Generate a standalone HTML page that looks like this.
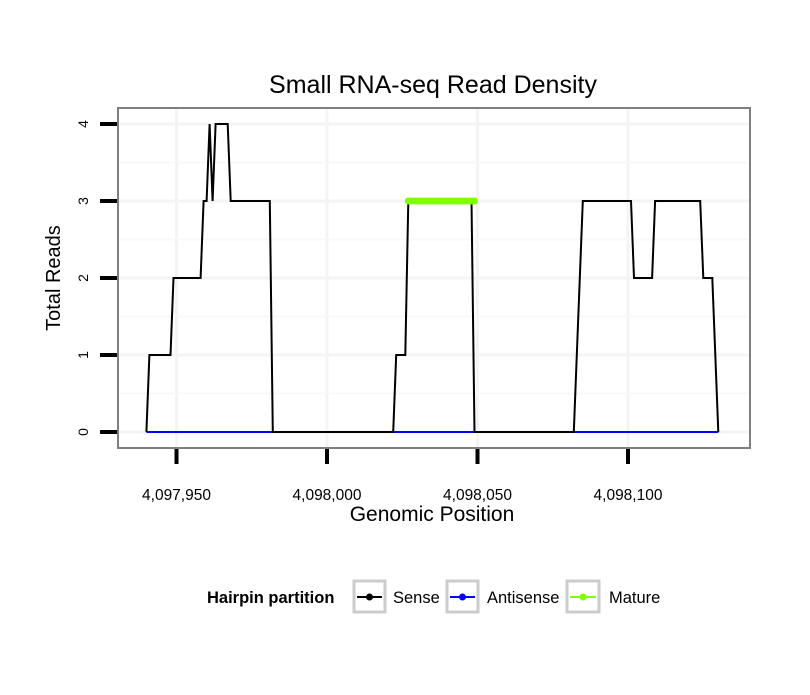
<!DOCTYPE html>
<html><head><meta charset="utf-8"><style>
body{margin:0;background:#fff}
svg text{font-family:"Liberation Sans",sans-serif}
</style></head><body>
<svg width="810" height="690" xmlns="http://www.w3.org/2000/svg">
<text x="433" y="93" font-size="25" text-anchor="middle">Small RNA-seq Read Density</text>
<rect x="118" y="108" width="632" height="340" fill="#fff" stroke="#7f7f7f" stroke-width="2"/>
<g id="grid"></g>
<g id="series"></g>
<g id="axes"></g>
<text x="432" y="521" font-size="21" text-anchor="middle">Genomic Position</text>
<text transform="translate(60,278) rotate(-90)" font-size="20" text-anchor="middle">Total Reads</text>
<g>
<text x="207" y="603" font-size="16.5" font-weight="bold">Hairpin partition</text>
<g>
<rect x="354" y="581" width="31" height="31" fill="#fff" stroke="#ccc" stroke-width="3"/>
<line x1="357" y1="597" x2="382" y2="597" stroke="#000" stroke-width="2"/><circle cx="369.5" cy="597" r="3.5" fill="#000"/>
<text x="393" y="603" font-size="16.5">Sense</text></g>
<g>
<rect x="447" y="581" width="31" height="31" fill="#fff" stroke="#ccc" stroke-width="3"/>
<line x1="450" y1="597" x2="475" y2="597" stroke="#0000ff" stroke-width="2"/><circle cx="462.5" cy="597" r="3.5" fill="#0000ff"/>
<text x="487" y="603" font-size="16.5">Antisense</text></g>
<g>
<rect x="567" y="581" width="32" height="31" fill="#fff" stroke="#ccc" stroke-width="3"/>
<line x1="570" y1="597" x2="596" y2="597" stroke="#7fff00" stroke-width="2"/><circle cx="583" cy="597" r="3.5" fill="#7fff00"/>
<text x="609" y="603" font-size="16.5">Mature</text></g>
</g>
</svg>
<script>
const base = 4097950;
const senseOffsets = [-10,-9,-2,-1,8,9,10,11,12,13,17,18,31,32,72,73,76,77,98,99,132,135,151,152,158,159,174,175,178,180];
const senseValues  = [0,1,1,2,2,3,3,4,3,4,4,3,3,0,0,1,1,3,3,0,0,3,3,2,2,3,3,2,2,0];
const antisenseRange = [-10,180];
const antisenseValue = 0;
const matureRange = [77,99];
const matureValue = 3;
const xTicks = [4097950,4098000,4098050,4098100];
const xTickLabels = ["4,097,950","4,098,000","4,098,050","4,098,100"];
const yTicks = [0,1,2,3,4];

const NS="http://www.w3.org/2000/svg";
function X(p){return 176.5+(p-base)*3.01;}
function Y(v){return 432-v*77;}
function mk(tag,attrs,parent){const e=document.createElementNS(NS,tag);for(const k in attrs)e.setAttribute(k,attrs[k]);parent.appendChild(e);return e;}
const grid=document.getElementById('grid'),series=document.getElementById('series'),axes=document.getElementById('axes');
for(let i=0;i<xTicks.length;i++){
  const l=mk('line',{x1:X(xTicks[i]),x2:X(xTicks[i]),y1:109,y2:447,stroke:'#f4f4f4','stroke-width':3},grid);
  
  
}
for(let i=0;i<yTicks.length;i++){
  const l=mk('line',{x1:119,x2:749,y1:Y(yTicks[i]),y2:Y(yTicks[i]),stroke:'#f4f4f4','stroke-width':3},grid);
  
  
  if(i<yTicks.length-1){
    const m=mk('line',{x1:119,x2:749,y1:Y(yTicks[i]+0.5),y2:Y(yTicks[i]+0.5),stroke:'#f8f8f8','stroke-width':2},grid);
    
    
  }
}
const a=mk('line',{x1:X(base+antisenseRange[0]),x2:X(base+antisenseRange[1]),y1:Y(antisenseValue),y2:Y(antisenseValue),stroke:'#0000ff','stroke-width':2},series);


const pts=senseOffsets.map((o,i)=>X(base+o).toFixed(1)+','+Y(senseValues[i]).toFixed(1)).join(' ');
const s=mk('polyline',{points:pts,fill:'none',stroke:'#000','stroke-width':2},series);


const mline=mk('line',{x1:X(base+matureRange[0]),x2:X(base+matureRange[1]),y1:Y(matureValue),y2:Y(matureValue),stroke:'#7fff00','stroke-width':3},series);


for(let p=matureRange[0];p<=matureRange[1];p++){
  const c=mk('circle',{cx:X(base+p),cy:Y(matureValue),r:3.5,fill:'#7fff00'},series);
  
  
}
for(let i=0;i<xTicks.length;i++){
  const t=mk('line',{x1:X(xTicks[i]),x2:X(xTicks[i]),y1:449,y2:464,stroke:'#000','stroke-width':4},axes);
  
  
  const tx=mk('text',{x:X(xTicks[i]),y:500,'font-size':15.5,'text-anchor':'middle'},axes);
  tx.textContent=xTickLabels[i];
  
  
}
for(let i=0;i<yTicks.length;i++){
  const t=mk('line',{x1:100,x2:117,y1:Y(yTicks[i]),y2:Y(yTicks[i]),stroke:'#000','stroke-width':4},axes);
  
  
  const tx=mk('text',{transform:'translate(88,'+Y(yTicks[i])+') rotate(-90)','font-size':14,'text-anchor':'middle'},axes);
  tx.textContent=String(yTicks[i]);
  
  
}
</script>
</body></html>
